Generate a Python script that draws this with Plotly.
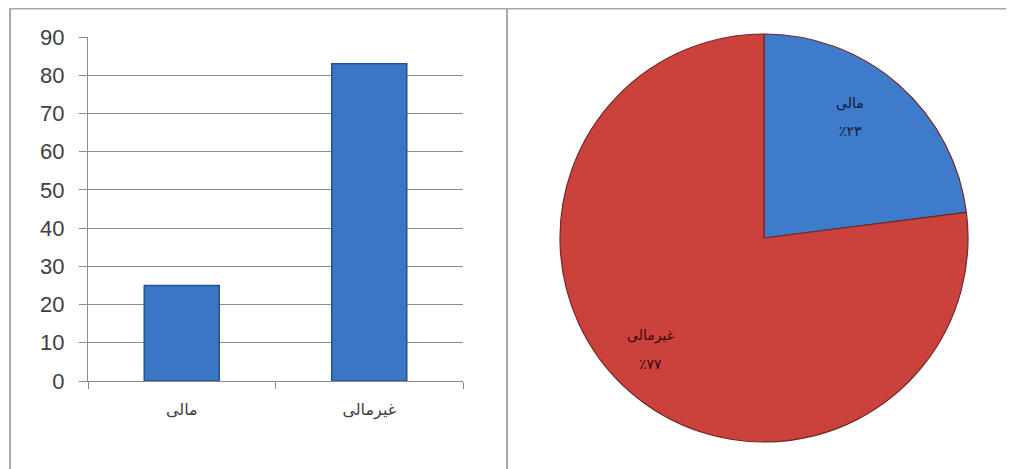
import math
import plotly.graph_objects as go

categories = ["مالی", "غیرمالی"]
bar_values = [25, 83]
pie_values = [23, 77]
pie_pct_labels = ["٪۲۳", "٪۷۷"]
y_ticks = [0, 10, 20, 30, 40, 50, 60, 70, 80, 90]

W, H = 1014, 469
OFF = 8  # page offset of the figure inside the browser


def px(x):
    return (x - OFF) / W


def py(y):
    return 1 - (y - OFF) / H


fig = go.Figure()

fig.add_trace(go.Bar(
    x=categories, y=bar_values, width=0.4,
    marker=dict(color="#3a76c4", line=dict(color="#24528f", width=1.5)),
    hoverinfo="skip", showlegend=False,
))

# pie geometry (reference pixels)
PCX, PCY, PR = 764, 238, 204
fig.add_trace(go.Pie(
    labels=categories, values=pie_values,
    textinfo="none",
    sort=False, direction="clockwise", rotation=0,
    marker=dict(colors=["#3e7bcb", "#cb423c"], line=dict(color="#6e2a2a", width=1.2)),
    domain=dict(x=[px(PCX - PR), px(PCX + PR)], y=[py(PCY + PR), py(PCY - PR)]),
    hoverinfo="skip", showlegend=False,
))

# slice labels placed from the pie's angles
label_colors = ["#101838", "#3a0808"]
angle_shift = [-6, 4]
radius_frac = [0.73, 0.78]
annotations = []
total = sum(pie_values)
start = 0.0
for i, v in enumerate(pie_values):
    mid = start + v / total * 180.0
    start += v / total * 360.0
    a = math.radians(mid + angle_shift[i])
    r = PR * radius_frac[i]
    cx = PCX + r * math.sin(a)
    cy = PCY - r * math.cos(a)
    for txt, dy in ((categories[i], -14), (pie_pct_labels[i], 14)):
        annotations.append(dict(
            x=px(cx), y=py(cy + dy), xref="paper", yref="paper",
            text=txt, showarrow=False, xanchor="center", yanchor="middle",
            font=dict(family="DejaVu Sans", size=14, color=label_colors[i]),
        ))

fig.update_layout(
    width=W, height=H,
    margin=dict(l=0, r=0, t=0, b=0),
    paper_bgcolor="white", plot_bgcolor="white",
    xaxis=dict(
        domain=[px(88), px(463)], type="category", automargin=False,
        showgrid=False, showline=True, linecolor="#8c8c8c", linewidth=1,
        ticks="outside", tickson="boundaries", ticklen=7, tickcolor="#8c8c8c",
        tickfont=dict(family="DejaVu Sans", size=16, color="#404040"),
        ticklabelstandoff=14, fixedrange=True,
    ),
    yaxis=dict(
        domain=[py(381), py(37)], range=[0, 90], automargin=False,
        tickvals=y_ticks, showgrid=True, gridcolor="#8c8c8c", gridwidth=1,
        showline=True, linecolor="#8c8c8c", linewidth=1,
        ticks="outside", ticklen=8, tickcolor="#8c8c8c",
        tickfont=dict(family="Liberation Sans", size=22, color="#404040"),
        ticklabelstandoff=10, zeroline=False, fixedrange=True,
    ),
    annotations=annotations,
    shapes=[
        dict(type="line", xref="paper", yref="paper", x0=px(10), x1=px(1012),
             y0=py(8.5), y1=py(8.5), line=dict(color="#a8a8a8", width=2)),
        dict(type="line", xref="paper", yref="paper", x0=px(10), x1=px(10),
             y0=0, y1=py(8), line=dict(color="#a8a8a8", width=2)),
        dict(type="line", xref="paper", yref="paper", x0=px(507), x1=px(507),
             y0=0, y1=py(8), line=dict(color="#a8a8a8", width=2)),
        dict(type="line", xref="paper", yref="paper", x0=px(1012), x1=px(1012),
             y0=0, y1=py(8), line=dict(color="#c8c8c8", width=1)),
    ],
)

fig.write_html("out.html")
